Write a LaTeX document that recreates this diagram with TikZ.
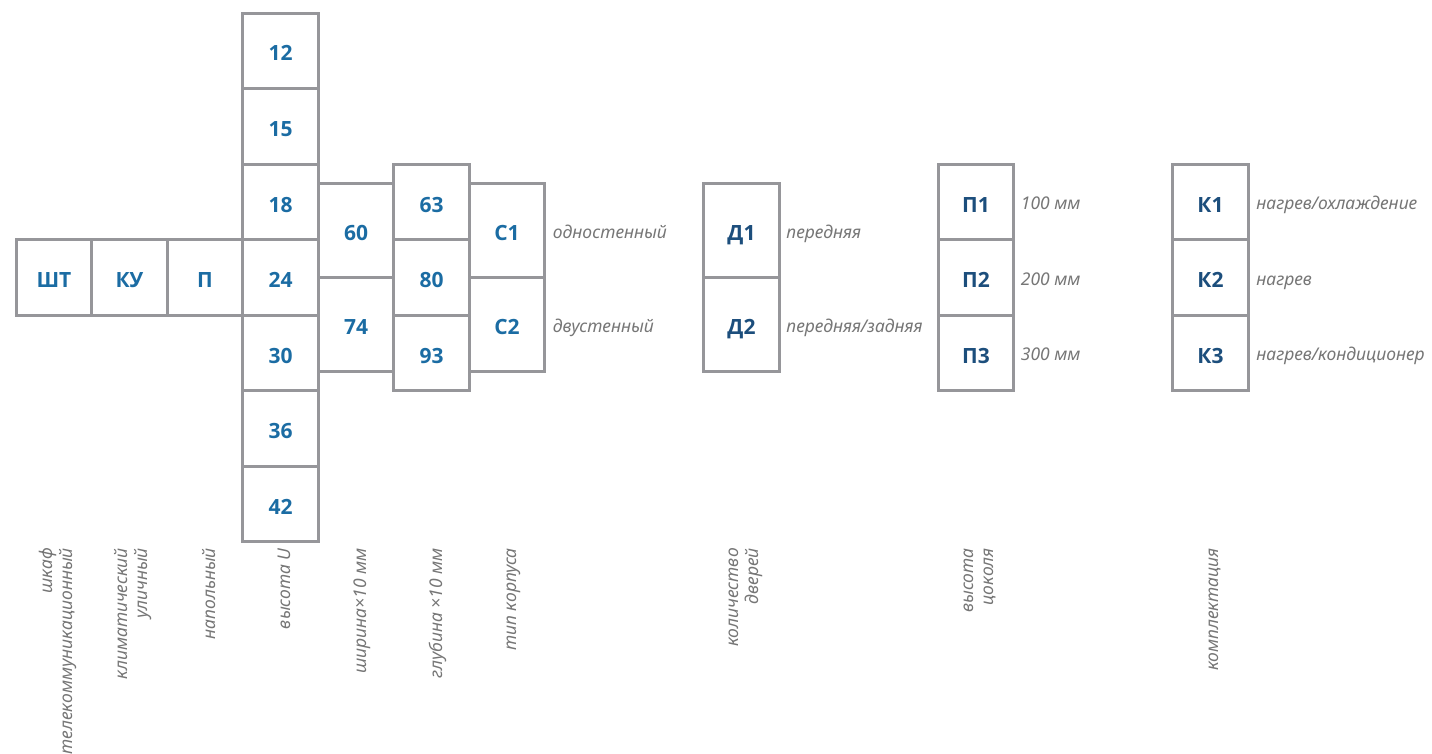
\documentclass[tikz,border=0pt]{standalone}
\usepackage{fontspec}
\setmainfont{Noto Sans}
\newfontfamily\cellfont{Open Sans}
\usepackage{xcolor}
\usepackage{tikz}
\usetikzlibrary{positioning}
\usetikzlibrary{calc}

\definecolor{cellgray}{RGB}{150,150,154}
\definecolor{numblue}{RGB}{27,108,163}
\definecolor{letblue}{RGB}{28,78,124}
\definecolor{txtgray}{RGB}{118,118,118}

\begin{document}
\begin{tikzpicture}[
          x=1pt,y=1pt,
          node distance=0pt and 0pt,
          cell/.style={draw=cellgray,line width=3pt,minimum width=75.5pt,minimum height=75.5pt,
                       inner sep=0pt,outer sep=0pt,text=numblue,text height=20pt,text depth=0pt,
                       font=\cellfont\fontsize{21}{24}\selectfont\bfseries},
          tall/.style={cell,minimum height=94pt},
          dark/.style={text=letblue},
          note/.style={text=txtgray,inner sep=0pt,font=\fontsize{17.5}{20}\selectfont\itshape},
          snote/.style={note,text height=15pt,text depth=0pt},
          vnote/.style={note,rotate=90,anchor=east,align=right}
          ]

          \useasboundingbox (0,0) rectangle (1432,-754);

          % height U
          \node[cell] (h24) at (280.5,-277.5) {24};
          \node[cell,above=of h24] (h18) {18};
          \node[cell,above=of h18] (h15) {15};
          \node[cell,above=of h15] (h12) {12};
          \node[cell,below=of h24] (h30) {30};
          \node[cell,below=of h30] (h36) {36};
          \node[cell,below=of h36] (h42) {42};

          % type
          \node[cell,left=of h24] (p) {П};
          \node[cell,left=of p] (ku) {КУ};
          \node[cell,left=of ku] (sht) {ШТ};

          % depth, width, case
          \node[cell,right=75.5pt of h24] (g80) {80};
          \node[cell,above=of g80] (g63) {63};
          \node[cell,below=of g80] (g93) {93};
          \node[tall,above left=0pt and 0pt of g80.west] (w60) {60};
          \node[tall,below=of w60] (w74) {74};
          \node[tall,above right=0pt and 0pt of g80.east] (c1) {С1};
          \node[tall,below=of c1] (c2) {С2};
          \node[snote,right=8pt of c1] (lc1) {одностенный};
          \node[snote,right=8pt of c2] (lc2) {двустенный};

          % doors
          \node[tall,dark,right=159pt of c1] (d1) {Д1};
          \node[tall,dark,below=of d1] (d2) {Д2};
          \node[snote,right=7pt of d1] (ld1) {передняя};
          \node[snote,right=7pt of d2] (ld2) {передняя/задняя};

          % plinth
          \node[cell,dark] (pp2) at (976,-277.5) {П2};
          \node[cell,dark,above=of pp2] (pp1) {П1};
          \node[cell,dark,below=of pp2] (pp3) {П3};
          \node[snote,right=7pt of pp1] (lpp1) {100 мм};
          \node[snote,right=7pt of pp2] (lpp2) {200 мм};
          \node[snote,right=7pt of pp3] (lpp3) {300 мм};

          % equipment
          \node[cell,dark,right=159pt of pp2] (k2) {К2};
          \node[cell,dark,above=of k2] (k1) {К1};
          \node[cell,dark,below=of k2] (k3) {К3};
          \node[snote,right=8pt of k1] (lk1) {нагрев/охлаждение};
          \node[snote,right=8pt of k2] (lk2) {нагрев};
          \node[snote,right=8pt of k3] (lk3) {нагрев/кондиционер};

          % captions
          \coordinate (base) at (0,-548);
          \node[vnote] (csht) at ($(sht |- base)+(4,0)$) {шкаф\\телекоммуникационный};
          \node[vnote] (cku) at ($(ku |- base)+(4,0)$) {климатический\\уличный};
          \node[vnote] (cp) at ($(p |- base)+(4,0)$) {напольный};
          \node[vnote] (ch) at ($(h24 |- base)+(4,0)$) {высота U};
          \node[vnote] (cw) at ($(w60 |- base)+(6,0)$) {ширина×10 мм};
          \node[vnote] (cg) at ($(g80 |- base)+(6,0)$) {глубина ×10 мм};
          \node[vnote] (cc) at ($(c1 |- base)+(7,0)$) {тип корпуса};
          \node[vnote] (cd) at ($(d1 |- base)+(4,0)$) {количество\\дверей};
          \node[vnote] (cpp) at ($(pp1 |- base)+(4,0)$) {высота\\цоколя};
          \node[vnote] (ck) at ($(k1 |- base)+(4,0)$) {комплектация};
        \end{tikzpicture}
\end{document}
